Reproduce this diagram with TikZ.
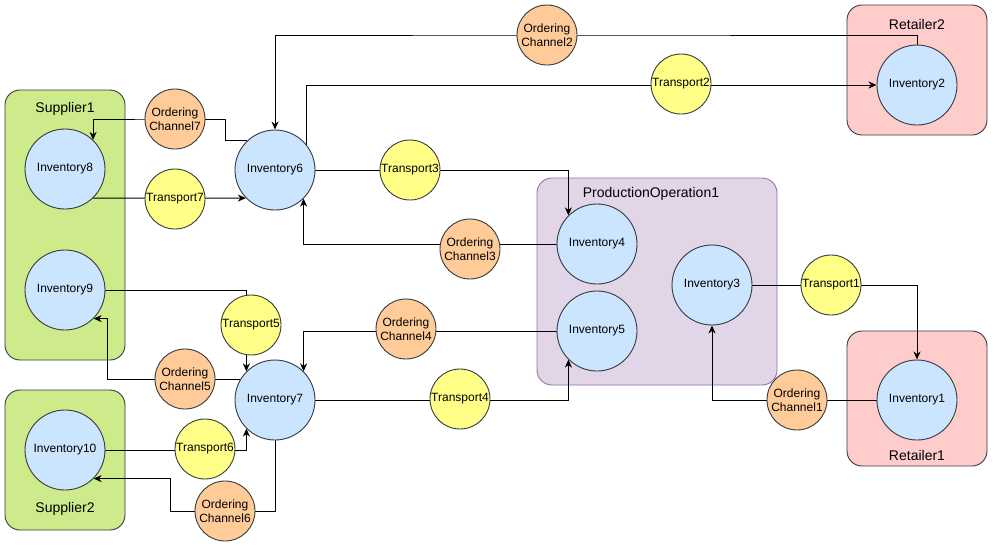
\documentclass[tikz,border=0pt]{standalone}
\usepackage{fontspec}
\setmainfont{Liberation Sans}
\usetikzlibrary{arrows.meta}
\pgfdeclarelayer{bgw}
\pgfdeclarelayer{cont}
\pgfdeclarelayer{edges}
\pgfsetlayers{bgw,cont,edges,main}
\definecolor{invfill}{HTML}{CCE5FF}
\definecolor{trfill}{HTML}{FFFF88}
\definecolor{ocfill}{HTML}{FFCC99}
\definecolor{nodestroke}{HTML}{36393D}
\definecolor{supfill}{HTML}{CDEB8B}
\definecolor{retfill}{HTML}{FFCCCC}
\definecolor{pofill}{HTML}{E1D5E7}
\definecolor{postroke}{HTML}{9673A6}
\tikzset{
  inv/.style={circle, draw=nodestroke, fill=invfill, line width=0.9pt, minimum size=80pt, inner sep=0pt, font=\fontsize{12}{14}\selectfont},
  trn/.style={circle, draw=nodestroke, fill=trfill, line width=0.9pt, minimum size=60pt, inner sep=0pt, font=\fontsize{12}{14}\selectfont},
  ordc/.style={circle, draw=nodestroke, fill=ocfill, line width=0.9pt, minimum size=60pt, inner sep=0pt, align=center, font=\fontsize{12}{14}\selectfont},
  contbox/.style={draw=nodestroke, line width=0.9pt, rounded corners=15pt},
  contlabel/.style={font=\fontsize{14}{16}\selectfont, inner sep=0pt},
  arr/.style={draw=black, line width=1pt, -{Stealth[length=8pt,width=7pt,inset=2.5pt]}},
  ln/.style={draw=black, line width=1pt}
}
\begin{document}
\begin{tikzpicture}[x=1pt,y=-1pt]
\useasboundingbox (0,0) rectangle (994,547);
\begin{pgfonlayer}{bgw}
\fill[white] (0,0) rectangle (994,547);
\end{pgfonlayer}
% containers
\begin{pgfonlayer}{cont}
\draw[contbox, fill=supfill] (5,90) rectangle (125,360);
\draw[contbox, fill=supfill] (5,390) rectangle (125,530);
\draw[contbox, fill=retfill] (847,5) rectangle (987,135);
\draw[contbox, fill=retfill] (847,331) rectangle (987,466);
\draw[contbox, draw=postroke, fill=pofill] (537,178) rectangle (777,385);
\end{pgfonlayer}
\node[contlabel] (lsup1) at (65,109) {Supplier1};
\node[contlabel] (lsup2) at (65,509) {Supplier2};
\node[contlabel] (lret2) at (917,24) {Retailer2};
\node[contlabel] (lret1) at (917,455) {Retailer1};
\node[contlabel] (lpo1) at (651,194) {ProductionOperation1};
% inventories
\node[inv] (inv1) at (917,400) {Inventory1};
\node[inv] (inv2) at (917,85) {Inventory2};
\node[inv] (inv3) at (712,285) {Inventory3};
\node[inv] (inv4) at (597,244) {Inventory4};
\node[inv] (inv5) at (597,331) {Inventory5};
\node[inv] (inv6) at (275,170) {Inventory6};
\node[inv] (inv7) at (275,400) {Inventory7};
\node[inv] (inv8) at (65,169) {Inventory8};
\node[inv] (inv9) at (65,290) {Inventory9};
\node[inv] (inv10) at (65,450) {Inventory10};
% transports
\node[trn] (t1) at (831,285) {Transport1};
\node[trn] (t2) at (681,84) {Transport2};
\node[trn] (t3) at (410,170) {Transport3};
\node[trn] (t4) at (460,399) {Transport4};
\node[trn] (t5) at (251,325) {Transport5};
\node[trn] (t6) at (205,449) {Transport6};
\node[trn] (t7) at (175,199) {Transport7};
% ordering channels
\node[ordc] (oc1) at (797,400) {Ordering\\Channel1};
\node[ordc] (oc2) at (547,35) {Ordering\\Channel2};
\node[ordc] (oc3) at (470,249) {Ordering\\Channel3};
\node[ordc] (oc4) at (406,329) {Ordering\\Channel4};
\node[ordc] (oc5) at (185,379) {Ordering\\Channel5};
\node[ordc] (oc6) at (225,511) {Ordering\\Channel6};
\node[ordc] (oc7) at (175,119) {Ordering\\Channel7};
% edges
\begin{pgfonlayer}{edges}
\draw[arr] (inv8.-46) -- (inv6.-136);
\draw[arr] (inv6.133) -- ++(-22,0) |- (oc7.center) -| (inv8.46);
\draw[arr] (inv2.north) |- (oc2.center) -| (inv6.north);
\draw[arr] (inv6.39) |- (inv2.west);
\draw[arr] (inv6.east) -| (inv4.135);
\draw[arr] (inv4.west) -| (inv6.-45);
\draw[arr] (inv5.west) -| (inv7.45);
\draw[arr] (inv7.east) -| (inv5.-135);
\draw[arr] (inv3.east) -| (inv1.north);
\draw[arr] (inv1.west) -| (inv3.south);
\draw[arr] (inv9.east) -| (inv7.135);
\draw[arr] (inv7.150) -| ([xshift=14pt]inv9.-45) -- (inv9.-45);
\draw[arr] (inv10.east) -| (inv7.-135);
\draw[arr] (inv7.south) |- (oc6.center) -| ([xshift=77pt]inv10.-45) -- (inv10.-45);
\end{pgfonlayer}
\end{tikzpicture}
\end{document}
